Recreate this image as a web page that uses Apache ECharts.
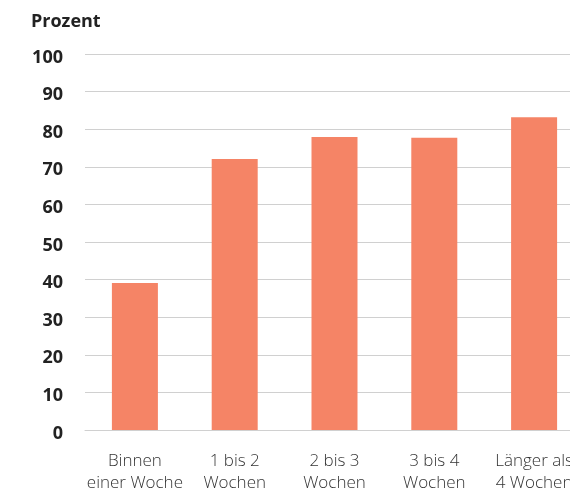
<!DOCTYPE html>
<html><head><meta charset="utf-8">
<script src="https://cdn.jsdelivr.net/npm/echarts@6/dist/echarts.min.js"></script>
<style>html,body{margin:0;padding:0;background:#fff}#c{width:570px;height:492px}</style>
</head><body><div id="c"></div>
<script>
var categories = ["Binnen\neiner Woche", "1 bis 2\nWochen", "2 bis 3\nWochen", "3 bis 4\nWochen", "Länger als\n4 Wochen"];
var values = [39.1, 72.1, 77.9, 77.7, 83.2];
var yTicks = [0, 100, 10];
var chart = echarts.init(document.getElementById('c'));
chart.setOption({
  animation: false,
  title: {text: 'Prozent', left: 26, top: 8, textStyle: {fontFamily: 'Open Sans', fontWeight: 'bold', fontSize: 18, color: '#222'}},
  grid: {left: 85, width: 499, top: 54, bottom: 62, outerBoundsMode: 'none', containLabel: false},
  xAxis: {type: 'category', data: categories,
     axisLine: {lineStyle: {color: '#d0d0d0'}}, axisTick: {show: false},
     axisLabel: {interval: 0, margin: 20, fontFamily: 'Open Sans', fontWeight: 300, fontSize: 17, color: '#333', lineHeight: 22}},
  yAxis: {type: 'value', min: yTicks[0], max: yTicks[1], interval: yTicks[2],
     axisLabel: {margin: 22, formatter: '{v|{value}}',
       rich: {v: {fontFamily: 'Open Sans', fontWeight: 'bold', fontSize: 18, color: '#222', padding: [7, 0, 0, 0]}}},
     axisLine: {show: false}, axisTick: {show: false},
     splitLine: {lineStyle: {color: '#d0d0d0', width: 1}}},
  series: [{
    type: 'bar', data: values, barWidth: 46,
    itemStyle: {color: '#F58466'}
  }]
});
</script></body></html>
